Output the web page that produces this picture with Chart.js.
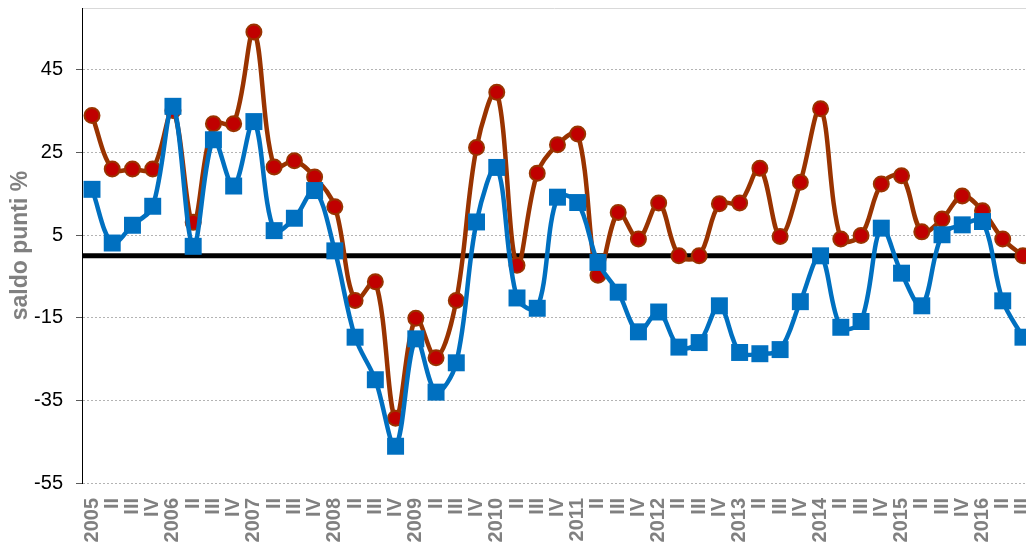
<!DOCTYPE html>
<html>
<head>
<meta charset="utf-8">
<script src="https://cdn.jsdelivr.net/npm/chart.js@4/dist/chart.umd.min.js"></script>
<style>
  html, body { margin: 0; padding: 0; background: #ffffff; }
  #wrap { width: 1026px; height: 552px; overflow: hidden; }
</style>
</head>
<body>
<div id="wrap"><canvas id="c" width="1026" height="552"></canvas></div>
<script>
// ---- data ----
const quarterLabels = [
  '2005','II','III','IV',
  '2006','II','III','IV',
  '2007','II','III','IV',
  '2008','II','III','IV',
  '2009','II','III','IV',
  '2010','II','III','IV',
  '2011','II','III','IV',
  '2012','II','III','IV',
  '2013','II','III','IV',
  '2014','II','III','IV',
  '2015','II','III','IV',
  '2016','II','III'
];
const serieBlu = [
  16.1, 3.1, 7.4, 12, 36.2, 2.3, 28.1, 16.9,
  32.5, 6.1, 9.1, 15.8, 1.2, -19.7, -30, -46.1,
  -20.1, -33, -25.9, 8.2, 21.4, -10.2, -12.7, 14.2,
  12.9, -1.6, -8.8, -18.4, -13.6, -22.1, -21, -12.1,
  -23.4, -23.7, -22.7, -11.1, 0, -17.3, -15.9, 6.7,
  -4.2, -12.1, 5.1, 7.5, 8.3, -10.9, -19.7
];
const serieRossa = [
  34, 21, 21, 21, 35.2, 8.1, 32, 32,
  54.2, 21.5, 23, 19.1, 11.9, -10.8, -6.3, -39.3,
  -15.1, -24.7, -10.8, 26.2, 39.6, -2.3, 20, 26.9,
  29.5, -4.7, 10.5, 4.1, 12.8, 0, 0, 12.6,
  12.8, 21.2, 4.7, 17.8, 35.6, 4.1, 4.9, 17.4,
  19.4, 5.8, 8.9, 14.5, 10.9, 4.1, 0
];
const yTickValues = [-55, -35, -15, 5, 25, 45];
const yMin = -55, yMax = 60;
const zeroLine = 0;
const yTitle = 'saldo punti %';

const FONT = "'Liberation Sans', Arial, sans-serif";

const zeroLinePlugin = {
  id: 'zeroLine',
  beforeDatasetsDraw(chart) {
    const {ctx, chartArea, scales} = chart;
    const y = scales.y.getPixelForValue(zeroLine);
    ctx.save();
    ctx.strokeStyle = '#000000';
    ctx.lineWidth = 5;
    ctx.beginPath();
    ctx.moveTo(chartArea.left, y);
    ctx.lineTo(chartArea.right, y);
    ctx.stroke();
    ctx.restore();
  }
};

new Chart(document.getElementById('c'), {
  type: 'line',
  data: {
    datasets: [
      {
        label: 'Serie 1',
        data: serieBlu.map((v, i) => ({x: i, y: v})),
        borderColor: '#0070C0',
        backgroundColor: '#0070C0',
        borderWidth: 4.5,
        tension: 0.35,
        pointStyle: 'rect',
        pointRadius: 12,
        pointBackgroundColor: '#0070C0',
        pointBorderColor: '#0070C0',
        pointBorderWidth: 0,
        clip: false
      },
      {
        label: 'Serie 2',
        data: serieRossa.map((v, i) => ({x: i, y: v})),
        borderColor: '#993300',
        backgroundColor: '#C00000',
        borderWidth: 4.5,
        tension: 0.35,
        pointStyle: 'circle',
        pointRadius: 7.5,
        pointBackgroundColor: '#C00000',
        pointBorderColor: '#993300',
        pointBorderWidth: 2,
        clip: false
      }
    ]
  },
  options: {
    responsive: false,
    animation: false,
    events: [],
    layout: { autoPadding: false, padding: { top: 8, right: 0, bottom: 9, left: 0 } },
    plugins: {
      legend: { display: false },
      tooltip: { enabled: false }
    },
    scales: {
      x: {
        type: 'linear',
        min: -0.494,
        max: 46.15,
        afterBuildTicks(scale) {
          scale.ticks = quarterLabels.map((_, i) => ({value: i}));
        },
        afterFit(scale) {
          scale.height = 60;
          scale.paddingLeft = 0; scale.paddingRight = 0;
          scale.paddingTop = 0; scale.paddingBottom = 0;
        },
        grid: { display: false, drawTicks: false },
        border: { display: false },
        ticks: {
          autoSkip: false,
          maxRotation: 90,
          minRotation: 90,
          padding: 15,
          color: '#808080',
          font: { family: FONT, size: 20, weight: 'bold' },
          callback: (v) => quarterLabels[v] !== undefined ? quarterLabels[v] : ''
        }
      },
      y: {
        min: yMin,
        max: yMax,
        afterBuildTicks(scale) {
          scale.ticks = yTickValues.map(v => ({value: v})).concat([{value: yMax}]);
        },
        afterFit(scale) {
          scale.width = 82;
          scale.paddingTop = 0; scale.paddingBottom = 0;
        },
        grid: {
          color: (c) => (c.tick && c.tick.value === yMax) ? '#d9d9d9' : '#b3b3b3',
          lineWidth: 1,
          drawTicks: true,
          tickLength: 6,
          tickColor: (c) => (c.tick && c.tick.value === yMax) ? 'rgba(0,0,0,0)' : '#595959'
        },
        border: {
          display: true,
          color: '#000000',
          width: 1,
          dash: (c) => (c.tick && c.tick.value === yMax) ? [] : [2, 2]
        },
        ticks: {
          padding: 13,
          color: '#000000',
          font: { family: FONT, size: 20 },
          callback: (v) => yTickValues.includes(v) ? String(v) : ''
        },
        title: {
          display: true,
          text: yTitle,
          color: '#808080',
          font: { family: FONT, size: 23, weight: 'bold' },
          padding: { top: 7, bottom: 1 }
        }
      }
    }
  },
  plugins: [zeroLinePlugin]
});
</script>
</body>
</html>
